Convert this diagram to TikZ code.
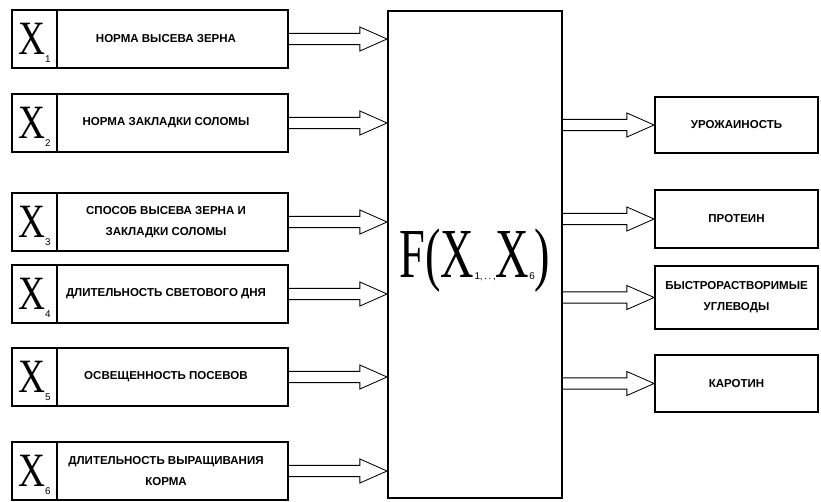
\documentclass[tikz,border=0pt]{standalone}
\usepackage{fontspec}
\setmainfont{Liberation Serif}
\setsansfont{Liberation Sans}
\newfontfamily\cellfont[FakeStretch=0.78]{Liberation Serif}
\newfontfamily\funcfont[FakeStretch=0.66]{Liberation Serif}
\usetikzlibrary{positioning}

\newcommand{\lowsub}[2][5.5pt]{\raisebox{-#1}[0pt][0pt]{\sffamily\fontsize{7}{7}\selectfont #2}}
\newcommand{\wideto}[2]{%
  \coordinate (a) at (#1);
  \coordinate (b) at (#2);
  \draw[shaft] ([yshift=1.4mm]a) -- ([xshift=-6.8mm, yshift=1.4mm]b)
    -- ([xshift=-6.8mm, yshift=3mm]b) -- (b)
    -- ([xshift=-6.8mm, yshift=-3mm]b) -- ([xshift=-6.8mm, yshift=-1.4mm]b)
    -- ([yshift=-1.4mm]a);
}

\begin{document}
\begin{tikzpicture}[
    box/.style={draw, line width=1.3pt, inner sep=0pt},
    inbox/.style={box, minimum width=6.9cm, minimum height=1.45cm},
    xcell/.style={box, minimum width=1.125cm, minimum height=1.45cm,
      font=\cellfont\fontsize{34}{34}\selectfont},
    outbox/.style={box, minimum width=4.075cm},
    lbl/.style={font=\sffamily\bfseries\fontsize{8.2}{15}\selectfont, align=center},
    shaft/.style={line width=0.6pt, line join=miter}]
  \useasboundingbox (0,0) rectangle (20.525,-12.525);
  % central block
  \node[box, minimum width=4.35cm, minimum height=12.175cm] (fbox) at (11.875,-6.3625) {};
  \node[font=\funcfont\fontsize{50}{50}\selectfont] (ftxt) at ([yshift=-1.6mm]fbox.center)
    {F(X\lowsub[1.5pt]{1,\,.\,.\,,}X\lowsub[1.5pt]{6})};
  % factors
  \foreach[count=\i from 1] \yy/\txt in
      {-0.975/НОРМА ВЫСЕВА ЗЕРНА, -3.075/НОРМА ЗАКЛАДКИ СОЛОМЫ,
       -5.55/{СПОСОБ ВЫСЕВА ЗЕРНА И\\ЗАКЛАДКИ СОЛОМЫ},
       -7.35/ДЛИТЕЛЬНОСТЬ СВЕТОВОГО ДНЯ, -9.425/ОСВЕЩЕННОСТЬ ПОСЕВОВ,
       -11.775/{ДЛИТЕЛЬНОСТЬ ВЫРАЩИВАНИЯ\\КОРМА}} {
    \node[inbox] (in\i) at (3.75,\yy) {};
    \node[xcell, anchor=west] (x\i) at (in\i.west) {X\lowsub{\i}};
    \node[lbl] (t\i) at ([xshift=4mm]in\i.center) {\txt};
    \wideto{in\i.east}{in\i.east -| fbox.west}
  }
  % results
  \foreach[count=\i from 1] \yy/\hh/\txt in
      {-3.125/1.4/УРОЖАИНОСТЬ, -5.475/1.45/ПРОТЕИН,
       -7.4375/1.575/{БЫСТРОРАСТВОРИМЫЕ\\УГЛЕВОДЫ}, -9.5875/1.425/КАРОТИН} {
    \node[outbox, lbl, minimum height=\hh cm] (out\i) at (18.4125,\yy) {\txt};
    \wideto{fbox.east |- out\i.west}{out\i.west}
  }
\end{tikzpicture}
\end{document}
